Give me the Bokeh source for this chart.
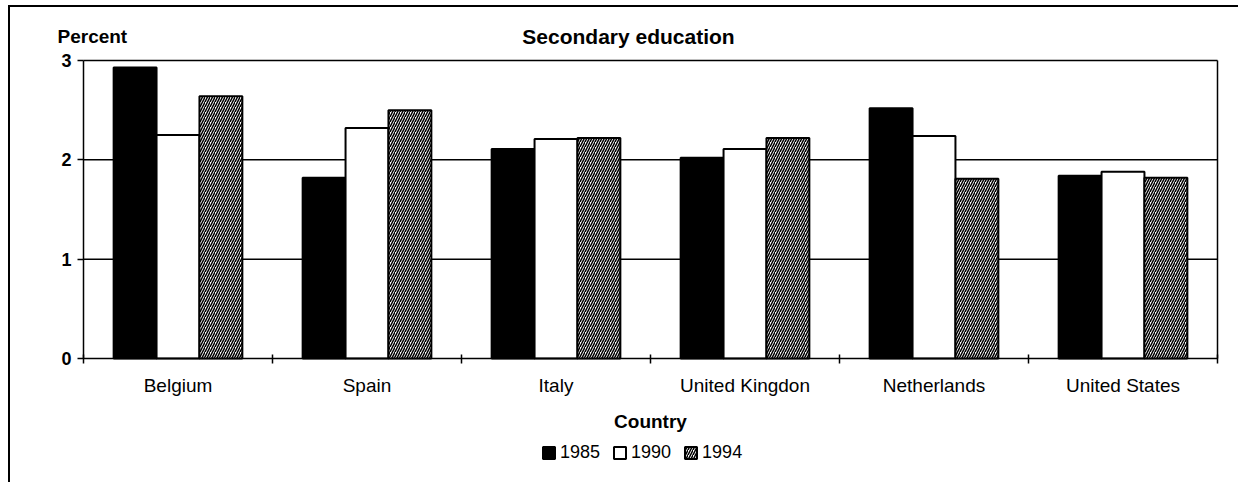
from bokeh.plotting import figure
from bokeh.models import (ColumnDataSource, Range1d, FixedTicker, CustomJSTickFormatter,
                          Legend, LegendItem, Label, LinearAxis)
from bokeh.embed import file_html
from bokeh.resources import INLINE

countries = ["Belgium", "Spain", "Italy", "United Kingdon", "Netherlands", "United States"]
years = ["1985", "1990", "1994"]
y1985 = [2.93, 1.82, 2.11, 2.02, 2.52, 1.84]
y1990 = [2.25, 2.32, 2.21, 2.11, 2.24, 1.88]
y1994 = [2.64, 2.50, 2.22, 2.22, 1.81, 1.82]
y_ticks = [0, 1, 2, 3]

FONT = "Liberation Sans"
BAR_W = 0.227
N = len(countries)
YMAX = y_ticks[-1]

# canvas geometry (page pixels, figure placed at OX, OY)
OX, OY = 10, 7
W, H = 1240 - OX, 484 - OY
X0, XN = 83 - OX, 1217 - OX     # pixel of x=0 and x=N
Y0, YT = 358 - OY, 60 - OY      # pixel of y=0 and y=YMAX
ppx = (XN - X0) / N
ppy = (Y0 - YT) / YMAX

idx = list(range(N))
centers = [i + 0.5 for i in idx]

p = figure(width=W, height=H, output_backend="svg", toolbar_location=None,
           x_range=Range1d(-X0 / ppx, N + (W - XN) / ppx),
           y_range=Range1d(-(H - Y0) / ppy, YMAX + YT / ppy),
           min_border=0, min_border_left=0, min_border_right=0,
           min_border_top=0, min_border_bottom=0)
p.background_fill_color = "white"
p.border_fill_color = "white"
p.outline_line_color = None
p.styles = {"border-top": "2px solid black", "border-left": "2px solid black",
            "margin-left": f"{OX - 2}px", "margin-top": f"{OY - 2}px"}

# horizontal grid lines, limited to the plot area
p.segment(x0=[0] * (len(y_ticks) - 1), x1=[N] * (len(y_ticks) - 1),
          y0=y_ticks[1:], y1=y_ticks[1:], line_color="black", line_width=1.5,
          level="underlay")

# y axis (drawn at x=0 inside the canvas)
p.yaxis.fixed_location = 0
p.yaxis.bounds = (0, YMAX)
p.yaxis.ticker = FixedTicker(ticks=y_ticks)
p.yaxis.axis_line_color = "black"
p.yaxis.axis_line_width = 1.5
p.yaxis.major_tick_line_color = "black"
p.yaxis.major_tick_line_width = 1.5
p.yaxis.major_tick_in = 0
p.yaxis.major_tick_out = 6
p.yaxis.minor_tick_line_color = None
p.yaxis.major_label_text_font = FONT
p.yaxis.major_label_text_font_style = "bold"
p.yaxis.major_label_text_font_size = "18px"
p.yaxis.major_label_text_color = "black"
p.yaxis.major_label_standoff = 6

# right border of the plot area
rax = LinearAxis(fixed_location=N, bounds=(0, YMAX), ticker=FixedTicker(ticks=[]),
                 axis_line_color="black", axis_line_width=1.5,
                 major_tick_line_color=None, minor_tick_line_color=None,
                 major_label_text_font_size="0px")
p.add_layout(rax, "right")

# x axis: labels at centers, tick marks at category boundaries
p.xaxis.fixed_location = 0
p.xaxis.bounds = (0, N)
p.xaxis.ticker = FixedTicker(ticks=centers, minor_ticks=list(range(N + 1)))
p.xaxis.formatter = CustomJSTickFormatter(args=dict(labels=countries),
                                          code="return labels[Math.floor(tick)];")
p.xaxis.axis_line_color = "black"
p.xaxis.axis_line_width = 1.5
p.xaxis.major_tick_line_color = None
p.xaxis.minor_tick_line_color = "black"
p.xaxis.minor_tick_line_width = 1.5
p.xaxis.minor_tick_in = 4
p.xaxis.minor_tick_out = 5
p.xaxis.major_label_text_font = FONT
p.xaxis.major_label_text_font_size = "19px"
p.xaxis.major_label_text_color = "black"
p.xaxis.major_label_standoff = 10
p.xaxis.axis_label = "Country"
p.xaxis.axis_label_text_font = FONT
p.xaxis.axis_label_text_font_style = "bold"
p.xaxis.axis_label_text_font_size = "19px"
p.xaxis.axis_label_text_color = "black"
p.xaxis.axis_label_standoff = 12

p.xgrid.grid_line_color = None
p.ygrid.grid_line_color = None

src = ColumnDataSource(dict(
    x85=[c - BAR_W for c in centers], x90=centers, x94=[c + BAR_W for c in centers],
    y85=y1985, y90=y1990, y94=y1994))

r85 = p.vbar(x="x85", top="y85", width=BAR_W, source=src, fill_color="black",
             line_color="black", line_width=2)
r90 = p.vbar(x="x90", top="y90", width=BAR_W, source=src, fill_color="white",
             line_color="black", line_width=2)
r94 = p.vbar(x="x94", top="y94", width=BAR_W, source=src, fill_color="white",
             hatch_pattern="/", hatch_color="black", hatch_scale=5, hatch_weight=1.5,
             line_color="black", line_width=2)

legend = Legend(items=[LegendItem(label=years[0], renderers=[r85]),
                       LegendItem(label=years[1], renderers=[r90]),
                       LegendItem(label=years[2], renderers=[r94])],
                orientation="horizontal", location=(541 - OX, H - (463 - OY)),
                border_line_color=None, background_fill_alpha=0,
                label_text_font=FONT, label_text_font_size="18px", label_text_color="black",
                glyph_width=15, glyph_height=15, label_standoff=4, spacing=12,
                padding=0, margin=0)
p.add_layout(legend, "center")

p.add_layout(Label(x=N / 2, y=YMAX, x_offset=-22, y_offset=24, text="Secondary education",
                   text_font=FONT, text_font_style="bold", text_font_size="21px",
                   text_align="center", text_baseline="middle", text_color="black"))
p.add_layout(Label(x=0, y=YMAX, x_offset=-26, y_offset=24, text="Percent",
                   text_font=FONT, text_font_style="bold", text_font_size="19px",
                   text_align="left", text_baseline="middle", text_color="black"))

open("out.html", "w").write(file_html(p, INLINE))
